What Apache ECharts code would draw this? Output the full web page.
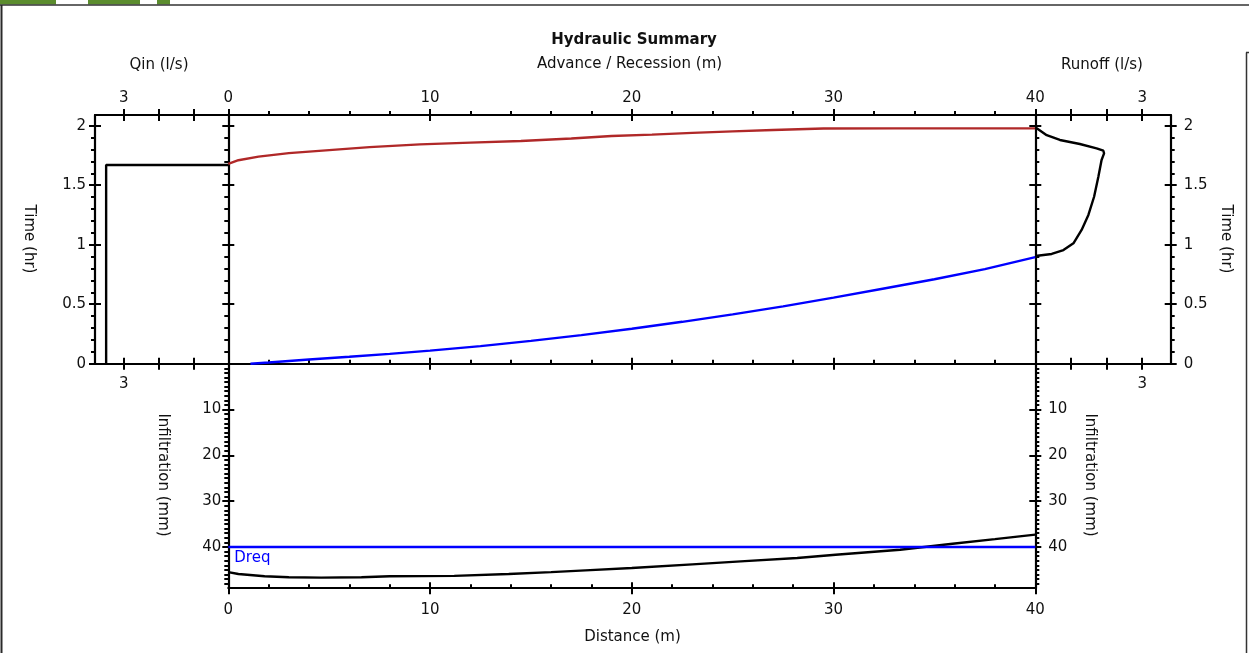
<!DOCTYPE html>
<html>
<head>
<meta charset="utf-8">
<script src="https://cdn.jsdelivr.net/npm/echarts@6/dist/echarts.min.js"></script>
<style>
html,body{margin:0;padding:0;background:#fff;}
#chart{width:1249px;height:653px;}
</style>
</head>
<body>
<div id="chart"></div>
<script>
// ---------------- data ----------------
const qinFlow = [3.51, 3.51, 0];
const qinTime = [0, 1.67, 1.67];

const advanceDist = [1.1, 2, 4, 6, 8, 10, 12.5, 15, 17.5, 20, 22.5, 25, 27.5, 30, 32.5, 35, 37.5, 40];
const advanceTime = [0.0, 0.01, 0.035, 0.058, 0.083, 0.11, 0.148, 0.192, 0.24, 0.294, 0.352, 0.415, 0.482, 0.555, 0.632, 0.71, 0.795, 0.895];

const recessionDist = [0, 0.5, 1.5, 3, 5, 7, 9.5, 12, 14.5, 17, 19, 21, 23, 25, 27, 29.5, 33, 36.5, 40];
const recessionTime = [1.68, 1.71, 1.74, 1.77, 1.795, 1.82, 1.843, 1.858, 1.872, 1.893, 1.913, 1.925, 1.94, 1.952, 1.964, 1.977, 1.978, 1.978, 1.978];

const runoffFlow = [0, 0.46, 0.79, 1.07, 1.30, 1.49, 1.65, 1.77, 1.86, 1.93, 1.91, 1.72, 1.25, 0.69, 0.32, 0.04, 0];
const runoffTime = [0.905, 0.922, 0.955, 1.012, 1.124, 1.25, 1.403, 1.571, 1.712, 1.768, 1.79, 1.81, 1.846, 1.88, 1.92, 1.978, 1.985];

const infDist  = [0, 0.5, 1.8, 3, 4.6, 6.6, 8, 11.2, 13.9, 16, 17.7, 20, 23, 25.6, 28.2, 30.1, 33.3, 35.9, 38, 40];
const infDepth = [45.5, 45.9, 46.4, 46.6, 46.7, 46.6, 46.4, 46.3, 45.9, 45.5, 45.1, 44.6, 43.8, 43.1, 42.4, 41.7, 40.6, 39.3, 38.3, 37.3];

const dreqDepth = 40;

// tick labels
const timeTicks = [0, 0.5, 1, 1.5, 2];
const distTicks = [0, 10, 20, 30, 40];
const flowTicks = [1, 2, 3];
const flowLabels = [3];
const infTicks = [10, 20, 30, 40];

// axis extents
const timeMax = 2.09, qinMax = 3.83, runoffMax = 3.8, distMax = 40, infMax = 49;

// ---------------- helpers ----------------
const FONT = 'DejaVu Sans';
const INK = '#000';
const TXT = '#111';
function steps(step, max, skipEvery) {
  const out = [];
  const n = Math.round(max / step);
  for (let i = 1; i <= n; i++) {
    if (skipEvery && i % skipEvery === 0) continue;
    out.push(+(i * step).toFixed(4));
  }
  return out;
}
function baseAxis(grid, pos, min, max, inverse) {
  return {
    type: 'value', gridIndex: grid, position: pos, min: min, max: max, inverse: !!inverse,
    axisLine: { show: false, onZero: false, lineStyle: { color: INK, width: 2.2 } },
    axisTick: { show: false }, axisLabel: { show: false },
    splitLine: { show: false }, minorTick: { show: false }, minorSplitLine: { show: false },
    axisPointer: { show: false }, silent: true
  };
}
function tick(values, inside, len) {
  return { show: true, inside: inside, length: len, lineStyle: { color: INK, width: 2 }, customValues: values };
}
// builds an edge: line + crossing major ticks (+ optional minor ticks, labels)
function edge(list, grid, pos, min, max, inverse, majors, minors, minorInside, labels, margin) {
  const idx = list.length;
  const a = baseAxis(grid, pos, min, max, inverse);
  a.axisLine.show = true;
  a.axisTick = tick(majors, false, 6);
  if (labels) {
    a.axisLabel = { show: true, customValues: labels, margin: margin, color: TXT, fontFamily: FONT, fontSize: 15 };
  }
  list.push(a);
  const b = baseAxis(grid, pos, min, max, inverse);
  b.axisTick = tick(majors, true, 6);
  list.push(b);
  if (minors) {
    const c = baseAxis(grid, pos, min, max, inverse);
    c.axisTick = tick(minors, minorInside, 4);
    list.push(c);
  }
  return idx;
}
function zip(xs, ys) { return xs.map((x, i) => [x, ys[i]]); }

// ---------------- axes ----------------
const xAxes = [], yAxes = [];
const timeMinors = steps(0.1, 2.0, 5);
const distMinors = steps(2, 40, 5);
const infMinors = steps(1, 48, 10);

// grid 0 : Qin
const xQin = edge(xAxes, 0, 'bottom', 0, qinMax, true, flowTicks, null, false, flowLabels, 13);
edge(xAxes, 0, 'top', 0, qinMax, true, flowTicks, null, false, flowLabels, 9);
const yQin = edge(yAxes, 0, 'left', 0, timeMax, false, timeTicks, timeMinors, false, timeTicks, 9);

// grid 1 : advance / recession
const xMain = edge(xAxes, 1, 'top', 0, distMax, false, distTicks, distMinors, false, distTicks, 9);
edge(xAxes, 1, 'bottom', 0, distMax, false, distTicks, distMinors, true, null, 0);
const yMain = edge(yAxes, 1, 'left', 0, timeMax, false, timeTicks, timeMinors, false, null, 0);
edge(yAxes, 1, 'right', 0, timeMax, false, timeTicks, timeMinors, false, null, 0);

// grid 2 : runoff
const xRun = edge(xAxes, 2, 'bottom', 0, runoffMax, false, flowTicks, null, false, flowLabels, 13);
edge(xAxes, 2, 'top', 0, runoffMax, false, flowTicks, null, false, flowLabels, 9);
const yRun = edge(yAxes, 2, 'right', 0, timeMax, false, timeTicks, timeMinors, false, timeTicks, 13);

// grid 3 : infiltration
const xInf = edge(xAxes, 3, 'bottom', 0, distMax, false, distTicks, distMinors, true, distTicks, 14);
const yInf = edge(yAxes, 3, 'left', 0, infMax, true, infTicks, infMinors, false, infTicks, 7);
edge(yAxes, 3, 'right', 0, infMax, true, infTicks, infMinors, false, infTicks, 13);

// ---------------- texts & frame ----------------
function txt(s, x, y, opts) {
  opts = opts || {};
  return {
    type: 'text', x: x, y: y, rotation: opts.rot || 0, silent: true,
    style: {
      text: s, fill: opts.color || TXT,
      font: (opts.bold ? 'bold ' : '') + (opts.size || 15) + 'px "' + FONT + '"',
      align: 'center', verticalAlign: 'middle', textAlign: 'center', textVerticalAlign: 'middle'
    }
  };
}
function ln(x1, y1, x2, y2, w, c) {
  return { type: 'line', silent: true, shape: { x1: x1, y1: y1, x2: x2, y2: y2 }, style: { stroke: c || '#222', lineWidth: w || 1.5 } };
}
const graphics = [
  { type: 'rect', silent: true, shape: { x: 0, y: 0, width: 56, height: 4.5 }, style: { fill: '#5b8c2e' } },
  { type: 'rect', silent: true, shape: { x: 88, y: 0, width: 52, height: 4.5 }, style: { fill: '#5b8c2e' } },
  { type: 'rect', silent: true, shape: { x: 157, y: 0, width: 13, height: 4.5 }, style: { fill: '#5b8c2e' } },
  ln(0, 5, 1249, 5, 1.5, '#333'),
  ln(1.5, 5, 1.5, 653, 2, '#2a2a2a'),
  ln(1246.5, 52.5, 1246.5, 653, 1.5, '#333'),
  ln(1246, 52.5, 1249, 52.5, 1.5, '#333'),
  txt('Hydraulic Summary', 634, 40, { bold: true }),
  txt('Advance / Recession (m)', 629.5, 64),
  txt('Qin (l/s)', 159, 65),
  txt('Runoff (l/s)', 1102, 65),
  txt('Time (hr)', 29, 239, { rot: -Math.PI / 2 }),
  txt('Time (hr)', 1226, 239, { rot: -Math.PI / 2 }),
  txt('Infiltration (mm)', 163, 475, { rot: -Math.PI / 2 }),
  txt('Infiltration (mm)', 1090, 475, { rot: -Math.PI / 2 }),
  txt('Distance (m)', 632.5, 637)
];

// ---------------- chart ----------------
const lineBase = { type: 'line', showSymbol: false, symbol: 'none', silent: true, animation: false, z: 3 };
const option = {
  animation: false,
  backgroundColor: '#fff',
  grid: [
    { left: 95, top: 115, width: 133.3, height: 248.7, outerBoundsMode: 'none', containLabel: false },
    { left: 228.3, top: 115, width: 807, height: 248.7, outerBoundsMode: 'none', containLabel: false },
    { left: 1035.3, top: 115, width: 135.4, height: 248.7, outerBoundsMode: 'none', containLabel: false },
    { left: 228.3, top: 363.7, width: 807, height: 224.5, outerBoundsMode: 'none', containLabel: false }
  ],
  xAxis: xAxes,
  yAxis: yAxes,
  graphic: graphics,
  series: [
    Object.assign({}, lineBase, { name: 'Qin', xAxisIndex: xQin, yAxisIndex: yQin, data: zip(qinFlow, qinTime), lineStyle: { color: '#000', width: 2.4 } }),
    Object.assign({}, lineBase, { name: 'Recession', xAxisIndex: xMain, yAxisIndex: yMain, data: zip(recessionDist, recessionTime), lineStyle: { color: '#b02828', width: 2.4 } }),
    Object.assign({}, lineBase, { name: 'Advance', xAxisIndex: xMain, yAxisIndex: yMain, data: zip(advanceDist, advanceTime), lineStyle: { color: '#0000ff', width: 2.4 } }),
    Object.assign({}, lineBase, { name: 'Runoff', xAxisIndex: xRun, yAxisIndex: yRun, data: zip(runoffFlow, runoffTime), lineStyle: { color: '#000', width: 2.4 } }),
    Object.assign({}, lineBase, { name: 'Infiltration', xAxisIndex: xInf, yAxisIndex: yInf, data: zip(infDist, infDepth), lineStyle: { color: '#000', width: 2.4 },
      markLine: {
        silent: true, symbol: 'none', animation: false,
        lineStyle: { color: '#0000ff', width: 2.4, type: 'solid' },
        label: { show: true, formatter: 'Dreq', position: 'insideStartBottom', color: '#0000ff', fontFamily: FONT, fontSize: 15, distance: [6, 4] },
        data: [{ yAxis: dreqDepth }]
      }
    })
  ]
};
const chart = echarts.init(document.getElementById('chart'), null, { renderer: 'canvas' });
chart.setOption(option);
</script>
</body>
</html>
